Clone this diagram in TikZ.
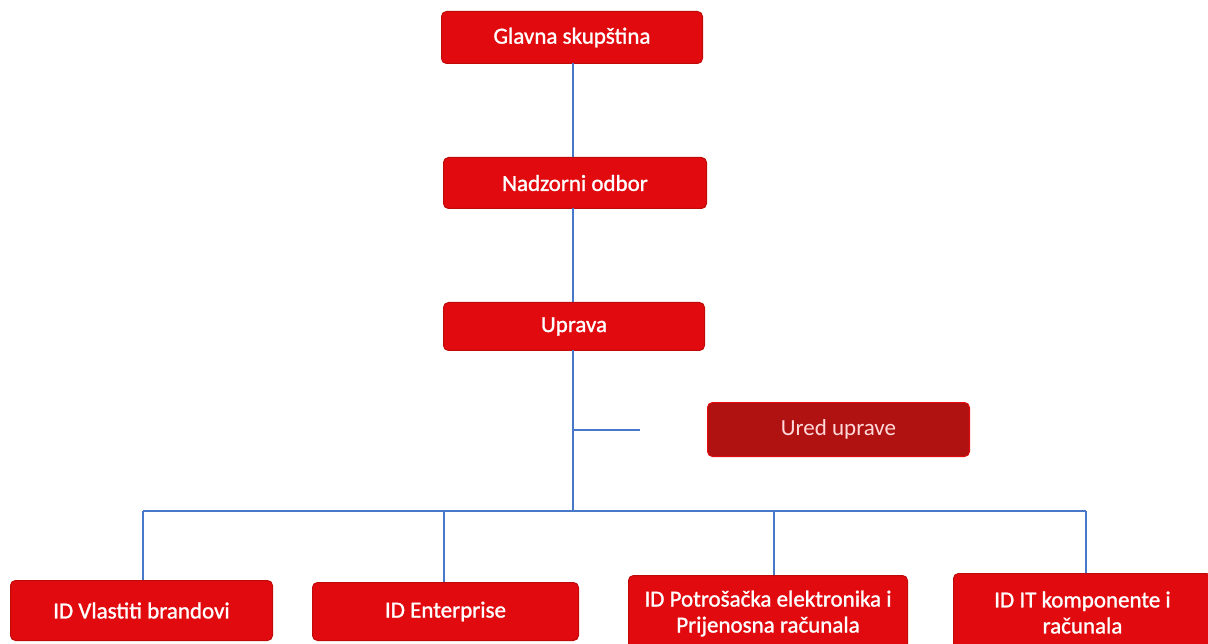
\documentclass[tikz,border=0pt]{standalone}
\usepackage{fontspec}
\setmainfont{Carlito}
\newfontfamily\semibold[FakeBold=1.2]{Carlito}
\definecolor{boxred}{HTML}{E10A0E}
\definecolor{boxedge}{HTML}{C00A0A}
\definecolor{darkred}{HTML}{B01212}
\definecolor{linkblue}{HTML}{4A78C8}
\begin{document}
\begin{tikzpicture}[x=1pt,y=-1pt,
  orgbox/.style={draw=boxedge, line width=1pt, fill=boxred, rounded corners=5pt, text=white, font=\semibold\fontsize{23}{26}\selectfont, align=center, inner sep=0pt, anchor=north west},
  link/.style={draw=linkblue, line width=1.3pt}]
\useasboundingbox (0,0) rectangle (1208,644);
\node[orgbox, minimum width=261pt, minimum height=52pt] (g) at (441,11) {Glavna skupština};
\node[orgbox, minimum width=263pt, minimum height=51pt] (n) at (443,157) {Nadzorni odbor};
\node[orgbox, minimum width=261pt, minimum height=48pt] (u) at (443,302) {Uprava};
\node[orgbox, fill=darkred, draw=boxred, text=white!85!red, font=\rmfamily\fontsize{23}{26}\selectfont, minimum width=262pt, minimum height=54pt] (r) at (707,402) {Ured uprave};
\node[orgbox, minimum width=262pt, minimum height=60pt] (a) at (10,580) {ID Vlastiti brandovi};
\node[orgbox, minimum width=266pt, minimum height=58pt] (b) at (312,582) {ID Enterprise};
\node[orgbox, minimum width=279pt, minimum height=76pt] (c) at (628,575) {ID Potrošačka elektronika i\\Prijenosna računala};
\node[orgbox, minimum width=258pt, minimum height=78pt] (d) at (953,573) {ID IT komponente i\\računala};
\coordinate (bus) at (573,511);
\coordinate (bl) at (143,511);
\coordinate (br) at (1086,511);
\coordinate (side) at (640,430);
\coordinate (sideb) at (573,430);
\path[link] (573,63) coordinate (g1) -- (573,157) coordinate (n1);
\path[link] (573,208) coordinate (n2) -- (573,302) coordinate (u1);
\path[link] (573,350) coordinate (u2) -- (bus);
\path[link] (sideb) -- (side);
\path[link] (bl) -- (br);
\path[link] (bl) -- (bl |- a.north);
\path[link] (444,511) -- (444,582);
\path[link] (774,511) -- (774,575);
\path[link] (br) -- (br |- d.north);
\end{tikzpicture}
\end{document}
